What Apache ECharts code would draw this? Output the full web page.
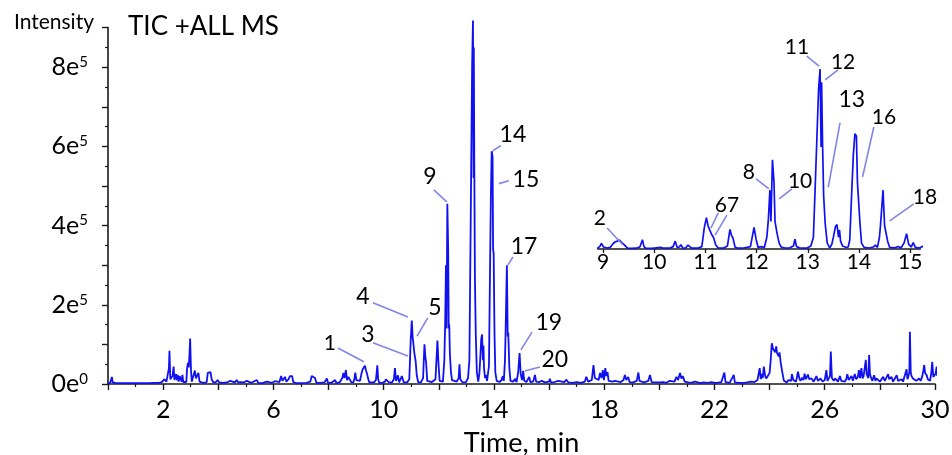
<!DOCTYPE html>
<html><head><meta charset="utf-8">
<script src="https://cdn.jsdelivr.net/npm/echarts@6.0.0/dist/echarts.min.js"></script>
<style>html,body{margin:0;padding:0;background:#fff}#c{width:952px;height:455px}</style>
</head><body><div id="c"></div>
<script>
// ---- data (time in min, intensity in thousands of counts) ----
const chartTitle = 'TIC +ALL MS';
const ticData = [
[0.00,3],[0.08,3],[0.12,5],[0.14,18],[0.17,4],[0.3,2],[0.6,2],[0.9,2],[1.2,2],[1.5,2],[1.62,3],[1.66,8],[1.70,3],[1.85,3],[1.95,5],[2.05,12],[2.08,17],[2.12,6],[2.17,5],[2.21,40],[2.23,84],[2.26,12],[2.30,8],[2.34,20],[2.38,44],[2.41,10],[2.44,12],[2.47,25],[2.50,10],[2.53,23],[2.56,6],[2.60,20],[2.64,22],[2.67,6],[2.70,23],[2.73,5],[2.78,3],[2.84,5],[2.87,40],[2.90,53],[2.93,42],[2.96,80],[2.98,115],[3.01,35],[3.04,6],[3.10,8],[3.15,34],[3.19,14],[3.24,10],[3.28,28],[3.32,6],[3.40,4],[3.50,3],[3.58,5],[3.62,28],[3.66,30],[3.72,30],[3.76,12],[3.82,4],[3.90,4],[3.98,10],[4.03,4],[4.20,3],[4.35,5],[4.43,8],[4.50,3],[4.60,4],[4.67,10],[4.72,4],[4.80,5],[4.87,10],[4.93,4],[5.03,8],[5.08,3],[5.20,3],[5.40,10],[5.45,3],[5.60,2],[5.76,6],[5.80,2],[5.95,3],[6.06,7],[6.12,3],[6.22,5],[6.28,20],[6.33,8],[6.38,10],[6.42,18],[6.47,6],[6.55,12],[6.60,20],[6.64,16],[6.68,20],[6.72,5],[6.80,3],[7.00,2],[7.20,3],[7.34,6],[7.39,20],[7.45,18],[7.51,15],[7.56,3],[7.70,3],[7.85,4],[7.94,14],[7.98,3],[8.10,3],[8.24,10],[8.28,3],[8.40,4],[8.50,15],[8.54,28],[8.58,15],[8.63,35],[8.67,10],[8.72,18],[8.78,15],[8.82,5],[8.90,4],[8.94,14],[8.97,29],[9.01,10],[9.04,15],[9.08,5],[9.14,8],[9.20,28],[9.24,37],[9.28,40],[9.32,46],[9.36,34],[9.40,25],[9.43,15],[9.48,4],
[9.55,3],[9.65,4],[9.72,10],[9.77,47],[9.80,12],[9.84,3],[9.95,3],[10.05,6],[10.08,12],[10.12,8],[10.15,15],[10.19,4],[10.30,4],[10.37,12],[10.41,40],[10.45,8],[10.49,10],[10.52,22],[10.56,4],[10.62,6],[10.66,20],[10.69,17],[10.73,4],[10.85,4],[10.93,12],[10.98,110],[11.02,160],[11.05,120],[11.08,100],[11.12,75],[11.16,58],[11.20,22],[11.25,5],[11.35,4],[11.43,15],[11.48,100],[11.51,70],[11.54,55],[11.58,8],[11.65,4],[11.75,5],[11.88,12],[11.95,110],[11.99,50],[12.03,8],[12.10,12],[12.15,6],[12.20,60],[12.23,150],[12.26,300],[12.28,140],[12.31,455],[12.34,340],[12.36,140],[12.38,150],[12.40,80],[12.44,30],[12.48,10],[12.55,5],[12.65,6],[12.72,15],[12.75,50],[12.78,12],[12.85,5],[12.98,4],[13.06,15],[13.11,60],[13.17,505],[13.21,810],[13.24,918],[13.26,520],[13.27,850],[13.29,520],[13.31,270],[13.34,130],[13.38,30],[13.43,6],[13.47,25],[13.50,60],[13.54,114],[13.57,125],[13.60,60],[13.62,97],[13.64,40],[13.68,15],[13.71,22],[13.75,8],[13.79,10],[13.82,46],[13.86,300],[13.89,480],[13.92,588],[13.95,575],[13.97,340],[13.99,330],[14.02,130],[14.05,30],[14.10,8],[14.20,5],[14.28,10],[14.32,20],[14.36,8],[14.40,60],[14.42,120],[14.44,115],[14.47,300],[14.50,120],[14.52,130],[14.56,40],[14.60,8],[14.70,6],[14.77,13],[14.82,5],[14.88,30],[14.93,78],[14.97,25],[15.02,10],[15.06,33],[15.10,8],[15.18,5],[15.28,18],[15.32,5],[15.42,6],[15.49,23],[15.53,6],[15.65,5],[15.73,8],[15.85,4],[16.00,6],[16.03,13],[16.07,4],[16.20,5],[16.33,8],[16.40,4],[16.55,5],[16.63,11],[16.70,4],[16.85,3],[17.00,5],[17.15,3],[17.30,6],[17.35,18],[17.42,6],[17.55,10],[17.61,48],[17.66,15],[17.73,18],[17.80,10],[17.85,28],[17.90,15],[17.95,35],[17.99,10],[18.04,40],[18.08,20],[18.12,30],[18.16,8],[18.21,4],[18.30,6],[18.39,8],[18.45,4],[18.60,5],[18.70,10],[18.75,23],[18.80,10],[18.87,18],[18.92,5],[18.96,8],[19.05,4],[19.18,8],[19.24,29],[19.28,8],[19.36,6],[19.45,4],[19.60,8],[19.66,23],[19.72,5],[19.85,4],[20.02,4],[20.15,5],[20.25,3],[20.38,8],[20.45,4],[20.55,6],[20.62,18],[20.68,10],[20.75,28],[20.80,14],[20.85,20],[20.92,6],[20.99,10],[21.05,4],[21.15,3],[21.29,6],[21.35,3],[21.50,2],[21.60,4],[21.75,3],[21.90,5],[22.00,3],[22.08,3],[22.25,5],[22.36,29],[22.40,5],[22.55,3],[22.70,23],[22.74,4],[22.90,3],[23.10,3],[23.33,6],[23.45,5],[23.56,10],[23.64,40],[23.68,12],[23.70,25],[23.75,15],[23.79,44],[23.84,20],[23.88,14],[23.94,10],[24.00,28],[24.04,60],[24.08,103],[24.12,90],[24.16,94],[24.20,80],[24.24,95],[24.27,78],[24.30,77],[24.33,70],[24.36,80],[24.40,55],[24.42,52],[24.46,30],[24.48,25],[24.52,8],[24.55,5],[24.62,4],[24.68,10],[24.73,14],[24.78,8],[24.81,25],[24.86,10],[24.91,12],[24.96,6],[25.03,31],[25.08,14],[25.12,8],[25.18,16],[25.23,10],[25.27,26],[25.32,12],[25.39,24],[25.44,12],[25.52,14],[25.60,6],[25.65,10],[25.70,20],[25.75,8],[25.85,14],[25.92,6],[26.00,10],[26.06,35],[26.10,8],[26.15,5],[26.19,20],[26.22,82],[26.26,15],[26.28,12],[26.33,8],[26.38,14],[26.42,16],[26.48,6],[26.55,20],[26.60,8],[26.67,12],[26.73,6],[26.78,12],[26.82,25],[26.87,10],[26.92,14],[26.97,20],[27.02,8],[27.09,25],[27.14,12],[27.20,18],[27.24,35],[27.28,15],[27.33,40],[27.37,14],[27.41,20],[27.45,18],[27.49,61],[27.52,25],[27.55,20],[27.58,15],[27.61,73],[27.64,25],[27.67,18],[27.73,8],[27.79,22],[27.84,8],[27.88,14],[27.94,16],[28.00,6],[28.06,12],[28.12,18],[28.18,8],[28.24,10],[28.30,25],[28.34,12],[28.38,8],[28.42,18],[28.48,6],[28.55,10],[28.61,22],[28.66,8],[28.72,10],[28.79,12],[28.84,6],[28.90,8],[28.97,37],[29.00,12],[29.03,18],[29.07,30],[29.09,132],[29.12,30],[29.15,20],[29.20,14],[29.27,18],[29.32,8],[29.38,10],[29.42,14],[29.48,8],[29.54,20],[29.58,35],[29.61,48],[29.64,28],[29.68,30],[29.70,22],[29.74,12],[29.78,16],[29.82,8],[29.86,25],[29.90,56],[29.94,18],[29.98,20],[30.02,26],[30.06,44],[30.08,20]
];
const xTickLabels = [2, 6, 10, 14, 18, 22, 26, 30];
const insetTicks = [9, 10, 11, 12, 13, 14, 15];
const yTickValues = [0, 200000, 400000, 600000, 800000];
const yMantissa = ['0', '2', '4', '6', '8'];
const yExponent = ['0', '5', '5', '5', '5'];
// peak annotations: label, grid, label position (min, counts), connector lines [t1,v1,t2,v2]
const peakNotes = [
  ['1', 0, 8.05, 104000, [[8.34, 91000, 9.28, 56000]]],
  ['3', 0, 9.43, 124000, [[9.61, 104000, 10.88, 71000]]],
  ['4', 0, 9.25, 220000, [[9.61, 205000, 10.88, 169000]]],
  ['5', 0, 11.86, 192000, [[11.60, 167000, 11.21, 121000]]],
  ['9', 0, 11.68, 523000, [[11.82, 490000, 12.29, 460000]]],
  ['14', 0, 14.69, 629000, [[13.96, 589000, 14.25, 602000]]],
  ['15', 0, 15.16, 516000, [[14.18, 506000, 14.54, 513000]]],
  ['17', 0, 15.09, 346000, [[14.69, 321000, 14.51, 301000]]],
  ['19', 0, 15.99, 154000, [[15.38, 131000, 14.98, 86000]]],
  ['20', 0, 16.21, 61000, [[15.67, 43000, 15.12, 33000]]],
  ['2', 1, 8.94, 158000, [[9.08, 107000, 9.39, 20000]]],
  ['67', 1, 11.42, 224000, [[11.25, 184000, 11.11, 107000], [11.42, 173000, 11.19, 71000]]],
  ['8', 1, 11.85, 393000, [[11.99, 357000, 12.24, 306000]]],
  ['10', 1, 12.85, 347000, [[12.69, 306000, 12.44, 255000]]],
  ['11', 1, 12.79, 1030000, [[12.98, 984000, 13.22, 933000]]],
  ['12', 1, 13.69, 954000, [[13.59, 913000, 13.34, 862000]]],
  ['13', 1, 13.86, 760000, [[13.63, 643000, 13.40, 316000]]],
  ['16', 1, 14.49, 673000, [[14.29, 622000, 14.07, 367000]]],
  ['18', 1, 15.29, 265000, [[15.07, 230000, 14.60, 143000]]]
];

const FONT = 'Lato, "Open Sans", sans-serif';
const traceColor = '#1010f0';
const noteColor = '#8484e6';
const seriesData = ticData.map(p => [p[0], p[1] * 1000]);

const chart = echarts.init(document.getElementById('c'), null, {renderer: 'canvas'});
const axisCol = '#1a1a1a';
chart.setOption({
  animation: false,
  backgroundColor: '#ffffff',
  title: {text: chartTitle, left: 128, top: 14, padding: 0,
    textStyle: {fontFamily: FONT, fontSize: 26, fontWeight: 'normal', color: '#000'}},
  grid: [
    {left: 108, top: 27.6, width: 827, height: 356.4, outerBoundsMode: 'none', containLabel: false},
    {left: 597.9, top: 62.7, width: 322.5, height: 186.3, outerBoundsMode: 'none', containLabel: false}
  ],
  xAxis: [
    {gridIndex: 0, type: 'value', min: 0, max: 30, interval: 2,
      name: 'Time, min', nameLocation: 'middle', nameGap: 46,
      nameTextStyle: {fontFamily: FONT, fontSize: 27, color: '#000'},
      axisLine: {show: true, onZero: false, lineStyle: {color: axisCol, width: 1.6}},
      axisTick: {length: 6, lineStyle: {color: axisCol, width: 1.4}},
      minorTick: {show: true, splitNumber: 2, length: 3, lineStyle: {color: axisCol, width: 1.2}},
      splitLine: {show: false}, minorSplitLine: {show: false},
      axisLabel: {margin: 13, fontFamily: FONT, fontSize: 25, color: '#000',
        formatter: v => xTickLabels.indexOf(Math.round(v * 1000) / 1000) >= 0 ? String(v) : ''}},
    {gridIndex: 1, type: 'value', min: 8.9, max: 15.2,
      axisLine: {show: true, onZero: false, lineStyle: {color: axisCol, width: 1.6}},
      axisTick: {customValues: insetTicks, length: 4, lineStyle: {color: axisCol, width: 1.3}},
      splitLine: {show: false},
      axisLabel: {customValues: insetTicks, margin: 3, fontFamily: FONT, fontSize: 21, color: '#000'}}
  ],
  yAxis: [
    {gridIndex: 0, type: 'value', min: 0, max: 900000, interval: 100000,
      name: 'Intensity', nameLocation: 'end', nameGap: 5,
      nameTextStyle: {fontFamily: FONT, fontSize: 21, color: '#000', align: 'right', verticalAlign: 'middle', padding: [0, 14, 0, 0]},
      axisLine: {show: true, onZero: false, lineStyle: {color: axisCol, width: 1.6}},
      axisTick: {show: true, length: 6, lineStyle: {color: axisCol, width: 1.4}},
      minorTick: {show: true, splitNumber: 2, length: 3, lineStyle: {color: axisCol, width: 1.2}},
      splitLine: {show: false},
      axisLabel: {margin: 20, color: '#000',
        formatter: v => {
          const i = yTickValues.findIndex(t => Math.abs(t - v) < 1);
          return i < 0 ? '' : '{m|' + yMantissa[i] + 'e}{s|' + yExponent[i] + '}';
        },
        rich: {
          m: {fontFamily: FONT, fontSize: 25, color: '#000'},
          s: {fontFamily: FONT, fontSize: 15, color: '#000', verticalAlign: 'top'}
        }}},
    {gridIndex: 1, type: 'value', min: 0, max: 950000, show: false, splitLine: {show: false}}
  ],
  series: [
    {type: 'line', xAxisIndex: 0, yAxisIndex: 0, data: seriesData, symbol: 'none', clip: false,
      lineStyle: {color: traceColor, width: 1.8}},
    {type: 'line', xAxisIndex: 1, yAxisIndex: 1, data: seriesData, symbol: 'none', clip: true,
      lineStyle: {color: traceColor, width: 1.7}}
  ]
});

const gfx = [];
peakNotes.forEach(n => {
  const g = n[1];
  const p = chart.convertToPixel({gridIndex: g}, [n[2], n[3]]);
  const fs = g === 0 ? (n[0] === '1' ? 21 : 23) : (n[0] === '13' ? 23 : 21);
  n[4].forEach(l => {
    const a = chart.convertToPixel({gridIndex: g}, [l[0], l[1]]);
    const b = chart.convertToPixel({gridIndex: g}, [l[2], l[3]]);
    gfx.push({type: 'line', silent: true, z: 10,
      shape: {x1: a[0], y1: a[1], x2: b[0], y2: b[1]},
      style: {stroke: noteColor, lineWidth: 1.6}});
  });
  gfx.push({type: 'text', silent: true, z: 11, x: p[0], y: p[1],
    style: {text: n[0], fill: '#000', font: fs + 'px ' + FONT,
      align: 'center', verticalAlign: 'middle', textAlign: 'center', textVerticalAlign: 'middle'}});
});
chart.setOption({graphic: gfx});
</script>
</body></html>
